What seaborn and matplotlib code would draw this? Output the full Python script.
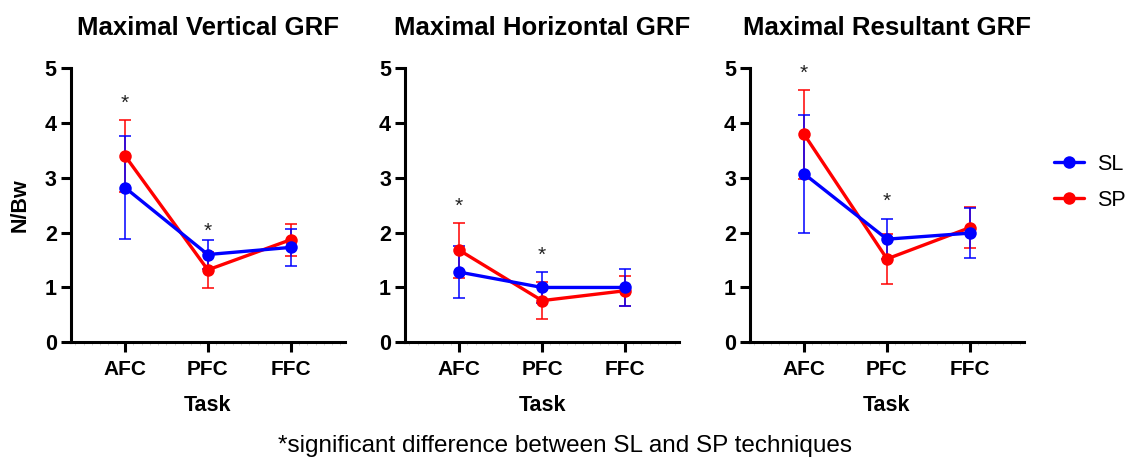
import numpy as np
import pandas as pd
import matplotlib
matplotlib.use("Agg")
import matplotlib.pyplot as plt
import seaborn as sns
from matplotlib.lines import Line2D
from matplotlib.ticker import MultipleLocator

sns.set_theme(style="ticks")
plt.rcParams['font.family'] = ['Liberation Sans', 'DejaVu Sans']
plt.rcParams['text.color'] = 'black'
plt.rcParams['axes.labelcolor'] = 'black'
plt.rcParams['xtick.color'] = 'black'
plt.rcParams['ytick.color'] = 'black'

tasks = ["AFC", "PFC", "FFC"]
titles = ["Maximal Vertical GRF", "Maximal Horizontal GRF", "Maximal Resultant GRF"]

# means and SDs (N/Bw)
vert_sl = [2.82, 1.60, 1.73]
vert_sl_sd = [0.94, 0.26, 0.33]
vert_sp = [3.40, 1.32, 1.87]
vert_sp_sd = [0.66, 0.33, 0.29]

horiz_sl = [1.28, 1.00, 1.00]
horiz_sl_sd = [0.48, 0.28, 0.33]
horiz_sp = [1.68, 0.76, 0.94]
horiz_sp_sd = [0.50, 0.34, 0.27]

res_sl = [3.07, 1.88, 1.99]
res_sl_sd = [1.07, 0.37, 0.45]
res_sp = [3.79, 1.52, 2.09]
res_sp_sd = [0.81, 0.46, 0.37]

# significance markers (y positions of "*" per panel; None = no marker)
star_vert = [4.35, 2.02, None]
star_horiz = [2.48, 1.58, None]
star_res = [4.90, 2.57, None]

panels = [
    (vert_sl, vert_sl_sd, vert_sp, vert_sp_sd, star_vert),
    (horiz_sl, horiz_sl_sd, horiz_sp, horiz_sp_sd, star_horiz),
    (res_sl, res_sl_sd, res_sp, res_sp_sd, star_res),
]

colors = {"SL": "#0000ff", "SP": "#ff0000"}

fig = plt.figure(figsize=(11.31, 4.62), dpi=100)
lefts = [0.0625, 0.358, 0.663]
width = 0.2425
bottom, top = 0.259, 0.853

for i, (sl, slsd, sp, spsd, stars) in enumerate(panels):
    ax = fig.add_axes([lefts[i], bottom, width, top - bottom])
    x = np.arange(len(tasks))
    df = pd.DataFrame({
        "x": np.concatenate([x, x]),
        "val": sp + sl,
        "sd": spsd + slsd,
        "grp": ["SP"] * 3 + ["SL"] * 3,
    })
    for grp in ["SP", "SL"]:
        d = df[df.grp == grp]
        ax.errorbar(d.x, d.val, yerr=d.sd, fmt="none", ecolor=colors[grp],
                    elinewidth=1.1, capsize=4.5, capthick=1.1, zorder=2)
        sns.lineplot(data=d, x="x", y="val", ax=ax, color=colors[grp],
                     linewidth=2.4, marker="o", markersize=9,
                     markeredgewidth=0, zorder=3, legend=False)
    for xi, s in zip(x, stars):
        if s is not None:
            ax.text(xi, s, "*", ha="center", va="center", fontsize=15,
                    color="#222222")
    ax.set_xlim(-0.655, 2.655)
    ax.set_ylim(0, 5)
    ax.set_xticks(x)
    ax.set_xticklabels(tasks, fontsize=15, fontweight="bold")
    ax.set_yticks([0, 1, 2, 3, 4, 5])
    ax.set_yticklabels(["0", "1", "2", "3", "4", "5"], fontsize=15.5,
                       fontweight="bold")
    ax.xaxis.set_minor_locator(MultipleLocator(0.1))
    ax.tick_params(axis="x", which="minor", length=2, width=0.6,
                   color="#cfcfcf", direction="out")
    ax.tick_params(axis="both", which="major", length=7, width=2.2,
                   color="black")
    ax.tick_params(axis="x", which="major", pad=6)
    ax.tick_params(axis="y", which="major", pad=3)
    for sp_name in ["top", "right"]:
        ax.spines[sp_name].set_visible(False)
    for sp_name in ["left", "bottom"]:
        ax.spines[sp_name].set_linewidth(2.2)
        ax.spines[sp_name].set_color("black")
    ax.set_xlabel("Task", fontsize=15.5, fontweight="bold", labelpad=11)
    if i == 0:
        ax.set_ylabel("N/Bw", fontsize=15.5, fontweight="bold", labelpad=10)
    else:
        ax.set_ylabel("")
    ax.set_title(titles[i], fontsize=18.5, fontweight="bold", pad=24)

handles = [
    Line2D([0], [0], color=colors["SL"], lw=2.4, marker="o", markersize=9,
           markeredgewidth=0, label="SL"),
    Line2D([0], [0], color=colors["SP"], lw=2.4, marker="o", markersize=9,
           markeredgewidth=0, label="SP"),
]
fig.legend(handles=handles, loc="center left", bbox_to_anchor=(0.915, 0.605),
           frameon=False, fontsize=15.5, handlelength=1.4, labelspacing=0.7,
           handletextpad=0.6)

fig.text(0.5, 0.035, "*significant difference between SL and SP techniques",
         ha="center", va="center", fontsize=17.5)

fig.savefig("out.png", dpi=100)
